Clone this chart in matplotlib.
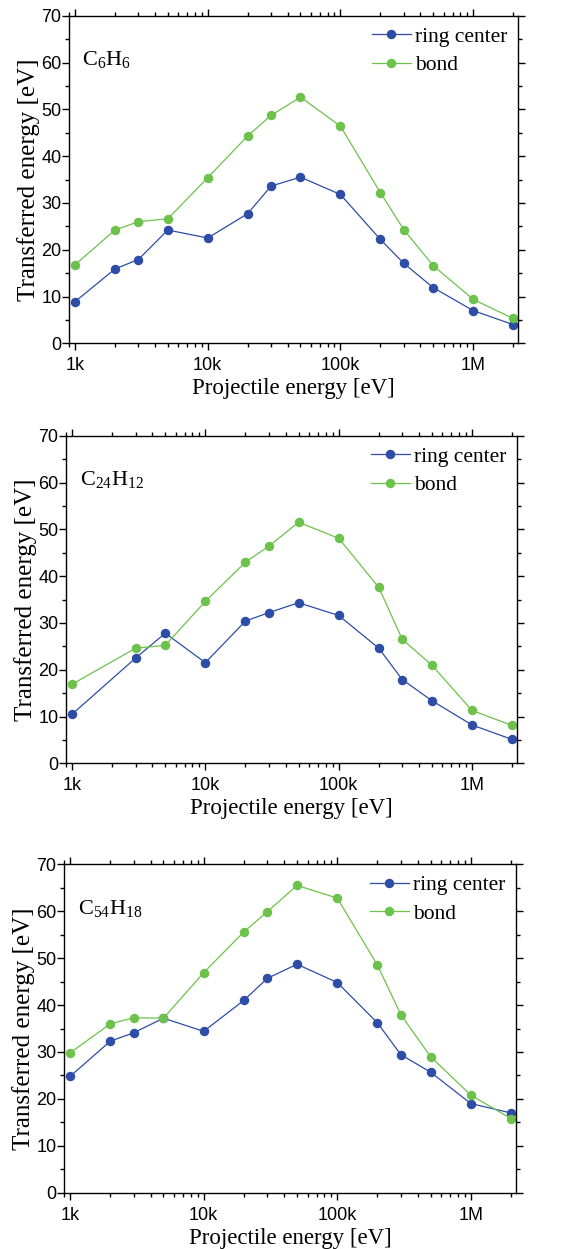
import numpy as np
import matplotlib.pyplot as plt
from matplotlib.ticker import FixedLocator, MultipleLocator, LogLocator, NullFormatter

plt.rcParams['font.family'] = ['Liberation Sans', 'DejaVu Sans']
plt.rcParams['mathtext.fontset'] = 'custom'
plt.rcParams['mathtext.rm'] = 'Liberation Serif'
plt.rcParams['mathtext.it'] = 'Liberation Serif:italic'

# projectile energies [eV]
x_full = [1e3, 2e3, 3e3, 5e3, 1e4, 2e4, 3e4, 5e4, 1e5, 2e5, 3e5, 5e5, 1e6, 2e6]
x_c24 = [1e3, 3e3, 5e3, 1e4, 2e4, 3e4, 5e4, 1e5, 2e5, 3e5, 5e5, 1e6, 2e6]

# transferred energy [eV]
c6_ring = [8.9, 15.9, 17.9, 24.2, 22.5, 27.7, 33.6, 35.5, 31.8, 22.2, 17.1, 11.9, 7.0, 4.0]
c6_bond = [16.8, 24.2, 26.0, 26.6, 35.4, 44.3, 48.7, 52.6, 46.4, 32.2, 24.3, 16.6, 9.4, 5.3]

c24_ring = [10.5, 22.5, 27.8, 21.5, 30.4, 32.2, 34.3, 31.6, 24.6, 17.9, 13.4, 8.2, 5.1]
c24_bond = [16.9, 24.6, 25.2, 34.6, 43.0, 46.4, 51.5, 48.1, 37.6, 26.5, 21.0, 11.3, 8.1]

c54_ring = [24.8, 32.3, 34.1, 37.2, 34.4, 41.0, 45.7, 48.7, 44.8, 36.2, 29.4, 25.7, 19.0, 17.0]
c54_bond = [29.8, 36.0, 37.3, 37.2, 46.9, 55.6, 59.9, 65.5, 62.8, 48.5, 37.9, 29.0, 20.8, 15.8]

labels = [r'$\mathrm{C_6H_6}$', r'$\mathrm{C_{24}H_{12}}$', r'$\mathrm{C_{54}H_{18}}$']
xticks = [1e3, 1e4, 1e5, 1e6]
xticklabels = ['1k', '10k', '100k', '1M']

blue = '#2d4da6'
green = '#6dc24b'

fig = plt.figure(figsize=(5.7, 12.49), dpi=100)
W, H = 570, 1249
boxes = [(69, 518, 15.7, 343.3), (66, 517, 435.7, 763.3), (64, 516, 864.3, 1192.7)]
panels = [(x_full, c6_ring, c6_bond), (x_c24, c24_ring, c24_bond), (x_full, c54_ring, c54_bond)]

for (l, r, t, b), (xs, ring, bond), lab in zip(boxes, panels, labels):
    ax = fig.add_axes([l / W, 1 - b / H, (r - l) / W, (b - t) / H])
    ax.plot(xs, ring, '-o', color=blue, lw=0.9, ms=5.8, label='ring center')
    ax.plot(xs, bond, '-o', color=green, lw=0.9, ms=5.8, label='bond')
    ax.set_xscale('log')
    ax.set_xlim(900, 2.18e6)
    ax.set_ylim(0, 70)
    ax.xaxis.set_major_locator(FixedLocator(xticks))
    ax.set_xticklabels(xticklabels)
    ax.xaxis.set_minor_locator(LogLocator(base=10, subs=np.arange(2, 10)))
    ax.xaxis.set_minor_formatter(NullFormatter())
    ax.yaxis.set_major_locator(MultipleLocator(10))
    ax.yaxis.set_minor_locator(MultipleLocator(5))
    ax.tick_params(which='both', direction='out', top=True, right=True,
                   labeltop=False, labelright=False, labelsize=13, width=1)
    ax.tick_params(which='major', length=5)
    ax.tick_params(which='minor', length=3)
    ax.tick_params(axis='x', pad=5)
    ax.tick_params(axis='y', pad=0.5)
    for s in ax.spines.values():
        s.set_linewidth(1)
    ax.set_xlabel('Projectile energy [eV]', family='Liberation Serif', fontsize=16.5, labelpad=3)
    ax.set_ylabel('Transferred energy [eV]', family='Liberation Serif', fontsize=18, labelpad=1)
    ax.text(0.03, 0.85, lab, transform=ax.transAxes, fontsize=16)
    ax.legend(loc='upper right', frameon=False, prop={'family': 'Liberation Serif', 'size': 15.5},
              handlelength=1.8, handletextpad=0.2, labelspacing=0.4, borderaxespad=0.3,
              borderpad=0.2)

fig.savefig('out.png', dpi=100)
